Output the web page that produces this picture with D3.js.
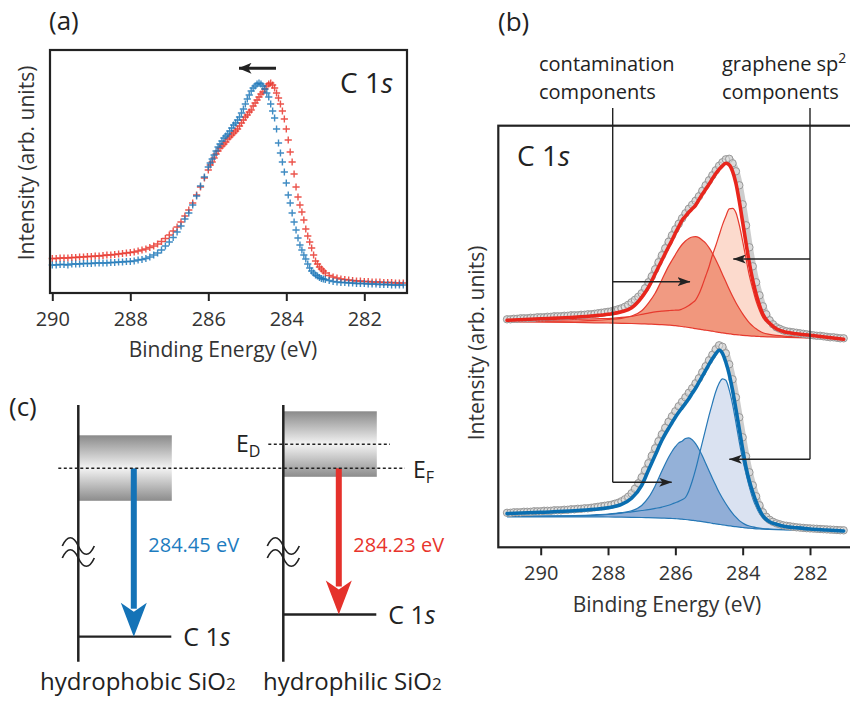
<!DOCTYPE html>
<html>
<head>
<meta charset="utf-8">
<title>C 1s XPS of graphene on SiO2</title>
<script src="https://cdn.jsdelivr.net/npm/d3@7"></script>
<style>
  body { margin: 0; background: #fff; }
  #svg { display: block; font-family: "Open Sans", "Noto Sans", sans-serif; }
</style>
</head>
<body>
<svg id="svg" width="850" height="702"></svg>
<script>
// ---------- panel (a): raw C 1s spectra (0.1 eV steps, 0.05 eV across the peak)
var energyA = [].concat(
    d3.range(40).map(function(i){ return +(290 - i * 0.1).toFixed(2); }),
    d3.range(61).map(function(i){ return +(286 - i * 0.05).toFixed(2); }),
    d3.range(1, 21).map(function(i){ return +(283 - i * 0.1).toFixed(2); })
);
var hydrophobicA = [
    28, 28, 28.5, 28.5, 28, 29, 29, 29, 29.5, 29.5, 29.5, 30, 30, 30, 30, 30.5, 30.5, 31, 31, 31.5,
    31.5, 32, 33, 33.5, 34.5, 36, 38, 40, 43, 47, 51, 55.5, 61, 67, 74, 80, 88, 97, 107, 116,
    126, 130, 134, 138, 142, 146, 149, 152, 155, 157, 159, 162, 165, 168, 170, 173, 176, 180, 184, 189,
    194, 198, 202, 205, 207, 209, 210, 209, 207, 204, 200, 196, 189, 182, 175, 164, 150, 140, 131, 121,
    110, 98, 90, 80, 71, 63, 55, 48, 43, 38, 34, 29, 25, 22, 20, 18, 17, 15.5, 14.5, 14, 13.5,
    12.5, 11.5, 11, 10.5, 10.5, 10, 10, 9.5, 9.5, 9.5, 9, 9, 9, 8.5, 8.5, 8.5, 8, 8, 8, 8
];
var hydrophilicA = [
    34.5, 34.5, 35, 35, 35, 35.5, 35.5, 36, 36, 36.5, 36.5, 37, 37, 37.5, 38, 38, 38.5, 39, 39.5, 40,
    40.5, 41, 42, 43, 44, 45.5, 47, 49, 51.5, 54.5, 58, 62, 66, 71, 77, 83, 90, 98, 106, 115,
    123, 128, 131, 135, 139, 142, 145, 147, 149, 151, 154, 156, 158, 160, 162, 164, 167, 170, 173, 176,
    178, 181, 183, 187, 190, 193, 196, 199, 201, 204, 207, 209, 210, 208, 205, 200, 195, 189, 182, 174,
    164, 153, 141, 131, 119, 106, 96, 88, 81, 73, 64, 57, 51, 45, 38, 32, 29, 26, 24, 22, 20,
    17.5, 16, 15, 14, 13.5, 13, 12.5, 12, 12, 11.5, 11.5, 11, 11, 11, 10.5, 10.5, 10.5, 10, 10, 10
];
var ticksEV = [290, 288, 286, 284, 282];

// ---------- panel (b): measured points (0.1 eV) and fitted components
var energyB = d3.range(101).map(function(i){ return +(291 - i * 0.1).toFixed(1); });
var energyFit = [291.0, 290.0, 289.0, 288.4, 288.0, 287.6, 287.3, 287.0, 286.8, 286.6, 286.4, 286.2,
    286.1, 286.0, 285.9, 285.8, 285.7, 285.6, 285.5, 285.4, 285.3, 285.2, 285.1, 285.0, 284.9, 284.8,
    284.7, 284.6, 284.5, 284.4, 284.3, 284.2, 284.1, 284.0, 283.9, 283.8, 283.7, 283.6, 283.5, 283.4,
    283.2, 283.0, 282.7, 282.4, 282.0, 281.5, 281.0];

// hydrophilic (red, upper trace)
var redMeasured = [
    228, 228, 228.5, 228.5, 229, 229, 229, 229.5, 229.5, 230,
    230, 230, 230.5, 230.5, 231, 231, 231, 231.5, 231.5, 232,
    232, 232, 232.5, 232.5, 233, 233, 233.5, 234, 234.5, 235,
    235.5, 236, 237, 238, 239, 240.5, 242.5, 245, 247.5, 250.5,
    254, 259, 265, 271, 278, 285, 292, 299, 305.5, 312,
    318, 323.5, 329, 334, 338.5, 342.5, 346.5, 351, 356.5, 362,
    367, 372, 377, 381.5, 385, 388, 388.5, 384, 376, 362,
    343, 322, 300, 281, 265, 252, 241, 233, 227, 223,
    220, 218.5, 217, 216, 215.5, 215, 214.5, 214, 213.5, 213,
    212.5, 212, 211.5, 211.5, 211, 210.5, 210, 210, 209.5, 209, 209
];
var redBackground = [225.5, 225.2, 224.8, 224.5, 224.3, 224, 223.8, 223.5, 223.2, 223, 222.6, 222.2,
    222, 221.6, 221.2, 220.8, 220.3, 219.8, 219.3, 218.7, 218.2, 217.6, 217.1, 216.6, 216.1, 215.5,
    215, 214.4, 214, 213.5, 213, 212.6, 212.3, 212, 211.7, 211.4, 211.2, 211, 210.8, 210.6,
    210.4, 210.2, 210, 209.7, 209.3, 208.7, 208];
var redContam = [0.5, 1, 1.5, 2.5, 3.5, 5, 7.5, 13, 21, 31, 45, 59,
    65, 71, 77, 82, 86, 89, 91, 92, 91.5, 89.5, 87, 83, 78, 72,
    65.5, 58.5, 51.5, 44.5, 38, 32, 26.5, 21.5, 17, 13, 10, 7.5, 5.5, 4,
    2.5, 1.7, 1, 0.6, 0.3, 0.1, 0];
var redGraphene = [1, 2, 3, 4, 4.5, 6, 7, 9.5, 11, 12.5, 13.5, 14.5,
    15, 15.5, 16, 17.5, 19.5, 22, 25, 28.5, 35, 44, 54, 64, 76, 86,
    97, 108, 117, 125, 126, 122, 110, 94, 77, 60, 47, 35, 26, 19,
    12, 7, 4, 2.5, 1.5, 0.7, 0.3];
var redFit = [227, 228.5, 230, 231.5, 233, 235.5, 239.5, 250, 260, 273.5, 287, 300.5,
    307, 314, 320.5, 327, 331, 335, 338.5, 342, 347.5, 353, 358, 363, 368.5, 373.5,
    378, 381.5, 384, 382.5, 376, 364, 346, 325, 304, 284, 267, 253, 242, 233,
    224, 218.5, 215, 213.5, 212, 210, 208];

// hydrophobic (blue, lower trace)
var blueMeasured = [
    34.5, 34.5, 35, 35, 35, 35.5, 35.5, 35.5, 36, 36,
    36, 36.5, 36.5, 36.5, 37, 37, 37, 37.5, 37.5, 38,
    38, 38.5, 38.5, 39, 39, 39.5, 40, 40.5, 41, 41.5,
    42, 42.5, 43.5, 44.5, 46, 48, 50.5, 54, 58.5, 64,
    70, 77, 84, 91.5, 99, 106, 113, 119.5, 125.5, 131,
    136, 141, 145.5, 150, 154.5, 159, 164, 169, 175, 181,
    187, 192.5, 198, 202, 200.5, 194, 183, 168, 150, 130,
    110, 91, 75, 62, 51, 42, 35, 30.5, 27.5, 25.5,
    24, 23, 22, 21.5, 21, 20.5, 20, 19.7, 19.4, 19.1,
    18.9, 18.7, 18.5, 18.3, 18.1, 17.9, 17.7, 17.5, 17.3, 17.1, 17
];
var blueBackground = [30.5, 30.5, 30.5, 30.5, 30.3, 30.2, 30, 29.8, 29.6, 29.4, 29.2, 29,
    28.8, 28.6, 28.4, 28.1, 27.8, 27.4, 27, 26.6, 26.1, 25.6, 25.1, 24.6, 24, 23.5,
    23, 22.5, 22, 21.5, 21, 20.6, 20.2, 19.8, 19.4, 19.1, 18.8, 18.5, 18.3, 18.1,
    17.9, 17.7, 17.5, 17.3, 17, 16.7, 16.3];
var blueContam = [0.3, 0.6, 1.2, 2, 3, 4.5, 6.5, 12, 20, 32, 47, 61,
    67, 72, 76, 78, 81, 82, 80.5, 77, 72, 66, 59, 52, 45, 38.5,
    32, 26.5, 21.5, 17, 13, 9.5, 6.5, 4.5, 3, 2.2, 1.6, 1.2, 0.9, 0.7,
    0.4, 0.2, 0.1, 0, 0, 0, 0];
var blueGraphene = [0.5, 0.8, 1, 1.5, 2.5, 4, 5.5, 7, 8, 9.5, 11, 13,
    14.5, 16, 17.5, 19.5, 22, 29, 39, 51, 65, 79, 93, 107, 120, 132,
    141, 146, 145, 136, 122, 104, 85, 68, 54, 41, 30, 22, 15.5, 11,
    6, 3.5, 2, 1.2, 0.7, 0.3, 0];
var blueFit = [33.7, 35, 36.5, 38, 39.5, 43, 49, 62, 77, 92, 107, 119,
    124.5, 130, 135, 139.5, 144, 148.5, 154, 159, 165, 171, 177, 183, 188.5, 193.5,
    197, 194, 185, 173, 157, 138, 118, 98, 80, 66, 55, 45.5, 37.5, 31.5,
    25.5, 23, 20.5, 19.5, 18.3, 17.3, 16.3];

// ---------- panel (c): energy diagram
var substrates = ["hydrophobic SiO", "hydrophilic SiO"];
var c1sBE = [284.45, 284.23];
var levelColors = ["#1473b7", "#e5312b"];
var labelColors = ["#1d7cc0", "#e8342c"];

var INK = "#222";
var BLUE = "#1e78b9", RED = "#e8362d";

var svg = d3.select("#svg");
var defs = svg.append("defs");

function addHead(id, w, h) {
    defs.append("marker").attr("id", id)
        .attr("viewBox", "0 0 " + w + " " + h)
        .attr("refX", w - 0.5).attr("refY", h / 2)
        .attr("markerWidth", w).attr("markerHeight", h)
        .attr("markerUnits", "userSpaceOnUse").attr("orient", "auto")
        .append("path")
        .attr("d", "M0,0L" + w + "," + (h / 2) + "L0," + h + "L" + (w * 0.25) + "," + (h / 2) + "Z")
        .attr("fill", INK);
}
addHead("head", 13, 9);
addHead("headBig", 13, 11);

var grad = defs.append("linearGradient").attr("id", "band")
    .attr("x1", 0).attr("y1", 0).attr("x2", 0).attr("y2", 1);
grad.append("stop").attr("offset", "0%").attr("stop-color", "#8a8a8a");
grad.append("stop").attr("offset", "50%").attr("stop-color", "#f3f3f3");
grad.append("stop").attr("offset", "100%").attr("stop-color", "#8c8c8c");

function styleAxis(g) {
    g.select(".domain").remove();
    g.attr("font-size", 20).attr("font-family", null);
    g.selectAll("line").attr("stroke", INK).attr("stroke-width", 2);
    g.selectAll("text").attr("fill", "#333");
}

function c1s(g, x, y, size) {
    var t = g.append("text").attr("x", x).attr("y", y).attr("font-size", size).attr("fill", INK);
    t.append("tspan").text("C 1");
    t.append("tspan").attr("font-style", "italic").text("s");
}

// ================= panel (a) =================
var xA = d3.scaleLinear().domain([290, 282]).range([52.3, 364.3]);
var yA = d3.scaleLinear().domain([0, 243]).range([293, 50]);
var gA = svg.append("g");

gA.append("text").attr("x", 49).attr("y", 30).attr("font-size", 26).attr("fill", INK).text("(a)");

function drawSpectrumA(values, color) {
    gA.append("g").selectAll("path")
        .data(values.map(function(v, i){ return {e: energyA[i], v: v}; }))
        .enter().append("path")
        .attr("transform", function(d){ return "translate(" + xA(d.e) + "," + yA(d.v) + ")"; })
        .attr("d", "M-3.6,0H3.6M0,-3.6V3.6")
        .attr("stroke", color).attr("stroke-width", 1.4).attr("stroke-opacity", 0.85);
}
drawSpectrumA(hydrophilicA, RED);
drawSpectrumA(hydrophobicA, BLUE);

gA.append("rect").attr("x", 50).attr("y", 50).attr("width", 357).attr("height", 243)
    .attr("fill", "none").attr("stroke", INK).attr("stroke-width", 2.2);

gA.append("g").attr("transform", "translate(0,293)")
    .call(d3.axisBottom(xA).tickValues(ticksEV).tickSize(8).tickPadding(11).tickSizeOuter(0))
    .call(styleAxis);

gA.append("text").attr("x", 223).attr("y", 357).attr("text-anchor", "middle")
    .attr("font-size", 21).attr("fill", "#333").text("Binding Energy (eV)");
gA.append("text").attr("transform", "translate(34,163) rotate(-90)").attr("text-anchor", "middle")
    .attr("font-size", 21).attr("fill", "#333").text("Intensity (arb. units)");

c1s(gA, 340, 93, 28);
gA.append("line").attr("x1", 276).attr("y1", 68.3).attr("x2", 239).attr("y2", 68.3)
    .attr("stroke", INK).attr("stroke-width", 3).attr("marker-end", "url(#headBig)");

// ================= panel (b) =================
var xB = d3.scaleLinear().domain([290, 282]).range([540.7, 810]);
var yB = d3.scaleLinear().domain([0, 421]).range([547.3, 126.3]);
var gB = svg.append("g");

gB.append("text").attr("x", 498).attr("y", 31).attr("font-size", 26).attr("fill", INK).text("(b)");

function drawSpectrumB(s) {
    var rows = energyFit.map(function(e, i){
        return {e: e, bg: s.bg[i], c: s.contam[i], g: s.graphene[i], fit: s.fit[i]};
    });
    var pts = energyB.map(function(e, i){ return {e: e, v: s.measured[i]}; });
    var X = function(d){ return xB(d.e); };
    var curve = d3.curveMonotoneX;

    var areaGr = d3.area().x(X).y0(function(d){ return yB(d.bg); })
        .y1(function(d){ return yB(d.bg + d.g); }).curve(curve);
    var areaCo = d3.area().x(X).y0(function(d){ return yB(d.bg); })
        .y1(function(d){ return yB(d.bg + d.c); }).curve(curve);
    var lineGr = d3.line().x(X).y(function(d){ return yB(d.bg + d.g); }).curve(curve);
    var lineCo = d3.line().x(X).y(function(d){ return yB(d.bg + d.c); }).curve(curve);
    var lineBg = d3.line().x(X).y(function(d){ return yB(d.bg); }).curve(curve);
    var lineFit = d3.line().x(X).y(function(d){ return yB(d.fit); }).curve(curve);
    var lineMeas = d3.line().x(X).y(function(d){ return yB(d.v); }).curve(curve);

    var g = gB.append("g");
    g.append("path").datum(rows).attr("d", areaGr).attr("fill", s.lightFill);
    g.append("path").datum(rows).attr("d", areaCo).attr("fill", s.darkFill).attr("fill-opacity", 0.9);
    [lineGr, lineCo, lineBg].forEach(function(fn){
        g.append("path").datum(rows).attr("d", fn).attr("fill", "none")
            .attr("stroke", s.thin).attr("stroke-width", 1.2);
    });
    // measured points
    g.append("path").datum(pts).attr("d", lineMeas).attr("fill", "none")
        .attr("stroke", "#cdcdcd").attr("stroke-width", 7).attr("stroke-linecap", "round");
    g.selectAll("circle").data(pts).enter().append("circle")
        .attr("cx", X).attr("cy", function(d){ return yB(d.v); }).attr("r", 3.7)
        .attr("fill", "#eeeeee").attr("fill-opacity", 0.4)
        .attr("stroke", "#979797").attr("stroke-width", 1);
    g.append("path").datum(rows).attr("d", lineFit).attr("fill", "none")
        .attr("stroke", s.thick).attr("stroke-width", 3.6).attr("stroke-linecap", "round");
}

drawSpectrumB({measured: redMeasured, bg: redBackground, contam: redContam, graphene: redGraphene,
    fit: redFit, lightFill: "#fcdacd", darkFill: "#ef8f74", thin: "#e63a2e", thick: "#e8261d"});
drawSpectrumB({measured: blueMeasured, bg: blueBackground, contam: blueContam, graphene: blueGraphene,
    fit: blueFit, lightFill: "#dae2f1", darkFill: "#88a8d4", thin: "#2678b6", thick: "#0a6eb0"});

gB.append("rect").attr("x", 498.3).attr("y", 125.7).attr("width", 420).attr("height", 421.6)
    .attr("fill", "none").attr("stroke", INK).attr("stroke-width", 2.2);

gB.append("g").attr("transform", "translate(0,547.3)")
    .call(d3.axisBottom(xB).tickValues(ticksEV).tickSize(8).tickPadding(11).tickSizeOuter(0))
    .call(styleAxis);

gB.append("text").attr("x", 667).attr("y", 612).attr("text-anchor", "middle")
    .attr("font-size", 21).attr("fill", "#333").text("Binding Energy (eV)");
gB.append("text").attr("transform", "translate(484,343) rotate(-90)").attr("text-anchor", "middle")
    .attr("font-size", 21).attr("fill", "#333").text("Intensity (arb. units)");
c1s(gB, 517, 166, 28);

// annotation labels (two lines each) and leader arrows
var labelLines = [[539, "contamination", "components"], [722, "graphene sp", "components"]];
labelLines.forEach(function(l, i){
    var top = gB.append("text").attr("x", l[0]).attr("y", 71).attr("font-size", 20).attr("fill", INK);
    top.append("tspan").text(l[1]);
    if (i === 1) top.append("tspan").attr("font-size", 14).attr("dy", -8).text("2");
    gB.append("text").attr("x", l[0]).attr("y", 99).attr("font-size", 20).attr("fill", INK).text(l[2]);
});

var lead = gB.append("g").attr("stroke", INK).attr("stroke-width", 1.4).attr("fill", "none");
lead.append("path").attr("d", "M612.7,108V482.3");
lead.append("path").attr("d", "M810,108V459.3");
[[612.7, 281.7, 690], [612.7, 482.3, 671.7], [810, 259, 733.3], [810, 459.3, 729.3]].forEach(function(a){
    lead.append("line").attr("x1", a[0]).attr("y1", a[1]).attr("x2", a[2]).attr("y2", a[1])
        .attr("marker-end", "url(#head)");
});

// ================= panel (c) =================
var gC = svg.append("g");
gC.append("text").attr("x", 9).attr("y", 416).attr("font-size", 26).attr("fill", INK).text("(c)");

var axisX = [78.3, 283.3];
var diracLift = [0, 24];
var yEF = 468.3;
var yC = d3.scaleLinear().domain([284.23, 284.45]).range([614.5, 636.7]);

substrates.forEach(function(name, i){
    var x0 = axisX[i];
    var yD = yEF - diracLift[i];
    gC.append("rect").attr("x", x0 + 0.5).attr("y", yD - 33).attr("width", 93).attr("height", 65.5)
        .attr("fill", "url(#band)");
    gC.append("line").attr("x1", x0).attr("x2", x0).attr("y1", 405).attr("y2", 661.7)
        .attr("stroke", INK).attr("stroke-width", 2.5);

    var yL = yC(c1sBE[i]);
    gC.append("line").attr("x1", x0).attr("x2", x0 + 93).attr("y1", yL).attr("y2", yL)
        .attr("stroke", INK).attr("stroke-width", 2.3);
    c1s(gC, x0 + 105, yL + 9, 25);

    var ax = x0 + 55.5;
    gC.append("rect").attr("x", ax - 3).attr("y", yEF).attr("width", 6).attr("height", yL - 28 - yEF)
        .attr("fill", levelColors[i]);
    gC.append("path")
        .attr("d", "M" + (ax - 13) + "," + (yL - 34) + "L" + ax + "," + (yL - 25) + "L" + (ax + 13) + "," +
            (yL - 34) + "L" + ax + "," + yL + "Z")
        .attr("fill", levelColors[i]);
    gC.append("text").attr("x", ax + 14.5).attr("y", 552).attr("font-size", 20)
        .attr("fill", labelColors[i]).text(c1sBE[i].toFixed(2) + " eV");

    // axis break
    [546, 558].forEach(function(yy){
        gC.append("path").attr("d", "M" + (x0 - 16) + "," + yy + "c5,-11 11,-11 16,0s11,11 16,0")
            .attr("fill", "none").attr("stroke", INK).attr("stroke-width", 1.7);
    });

    var t = gC.append("text").attr("x", i === 0 ? 40 : 263).attr("y", 690).attr("font-size", 24).attr("fill", INK);
    t.append("tspan").text(name);
    t.append("tspan").attr("font-size", 17).text("2");
});

// Fermi level and Dirac point
gC.append("line").attr("x1", 58.3).attr("x2", 405).attr("y1", yEF).attr("y2", yEF)
    .attr("stroke", INK).attr("stroke-width", 1.6).attr("stroke-dasharray", "3,2.5");
gC.append("line").attr("x1", 268.3).attr("x2", 390).attr("y1", yEF - diracLift[1]).attr("y2", yEF - diracLift[1])
    .attr("stroke", INK).attr("stroke-width", 1.6).attr("stroke-dasharray", "3,2.5");

var eD = gC.append("text").attr("x", 236).attr("y", 452).attr("font-size", 23).attr("fill", INK);
eD.append("tspan").text("E");
eD.append("tspan").attr("font-size", 16).attr("dy", 5).text("D");
var eF = gC.append("text").attr("x", 413).attr("y", 478).attr("font-size", 23).attr("fill", INK);
eF.append("tspan").text("E");
eF.append("tspan").attr("font-size", 16).attr("dy", 5).text("F");
</script>
</body>
</html>
